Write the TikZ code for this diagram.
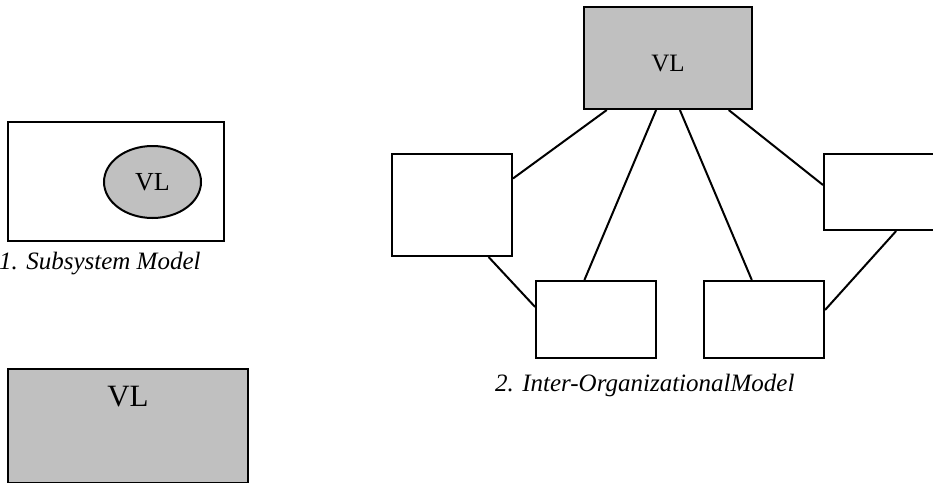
\documentclass[tikz,border=0pt]{standalone}
\usepackage{fontspec}
\setmainfont{Liberation Serif}
\usetikzlibrary{calc,shapes.geometric}
\definecolor{silver}{HTML}{C0C0C0}
\definecolor{ink}   {HTML}{000000}
\tikzset{
  box/.style={draw=ink,line width=2pt,fill=white,inner sep=0pt},
  vlbox/.style={box,fill=silver},
  link/.style={draw=ink,line width=2pt},
  caption/.style={inner sep=0pt,font=\fontsize{25}{30}\selectfont\itshape}
}
\begin{document}
\begin{tikzpicture}[x=1pt,y=-1pt]
  \useasboundingbox (0,0) rectangle (933,482);
  % 1. subsystem model
  \node[box,minimum width=216pt,minimum height=119pt] (sys) at (116,181.5) {};
  \node[vlbox,ellipse,minimum width=97pt,minimum height=72pt] (vlin) at (152.5,182)
    {\fontsize{26}{30}\selectfont VL};
  \node[caption,anchor=base west] (cap1) at (-1,269) {1. Subsystem Model};
  % 3. virtual laboratory alone
  \node[vlbox,minimum width=240pt,minimum height=114pt] (vlall) at (128,426) {};
  \node[inner sep=0pt,font=\fontsize{31}{36}\selectfont] (vlalltxt) at (128,397) {VL};
  % 2. inter-organizational model
  \node[vlbox,minimum width=168pt,minimum height=102pt] (vl) at (668,58) {};
  \node[inner sep=0pt,font=\fontsize{25}{30}\selectfont] (vltxt) at (668,64) {VL};
  \node[box,minimum width=120pt,minimum height=102pt] (orgA) at (452,205) {};
  \node[box,minimum width=120pt,minimum height=77pt]  (orgB) at (596,319.5) {};
  \node[box,minimum width=120pt,minimum height=77pt]  (orgC) at (764,319.5) {};
  \node[box,minimum width=116pt,minimum height=76pt]  (orgD) at (882,192) {};
  \draw[link] ($(vl.south west)!0.14!(vl.south east)$) -- ($(orgA.north east)!0.245!(orgA.south east)$);
  \draw[link] ($(vl.south west)!0.43!(vl.south east)$) -- ($(orgB.north west)!0.405!(orgB.north east)$);
  \draw[link] ($(vl.south west)!0.57!(vl.south east)$) -- ($(orgC.north west)!0.4!(orgC.north east)$);
  \draw[link] ($(vl.south west)!0.857!(vl.south east)$) -- ($(orgD.north west)!0.41!(orgD.south west)$);
  \draw[link] ($(orgA.south west)!0.8!(orgA.south east)$) -- ($(orgB.north west)!0.34!(orgB.south west)$);
  \draw[link] ($(orgD.south west)!0.62!(orgD.south east)$) -- ($(orgC.north east)!0.38!(orgC.south east)$);
  \node[caption,anchor=base west] (cap2) at (495,391) {2. Inter-OrganizationalModel};
\end{tikzpicture}
\end{document}
